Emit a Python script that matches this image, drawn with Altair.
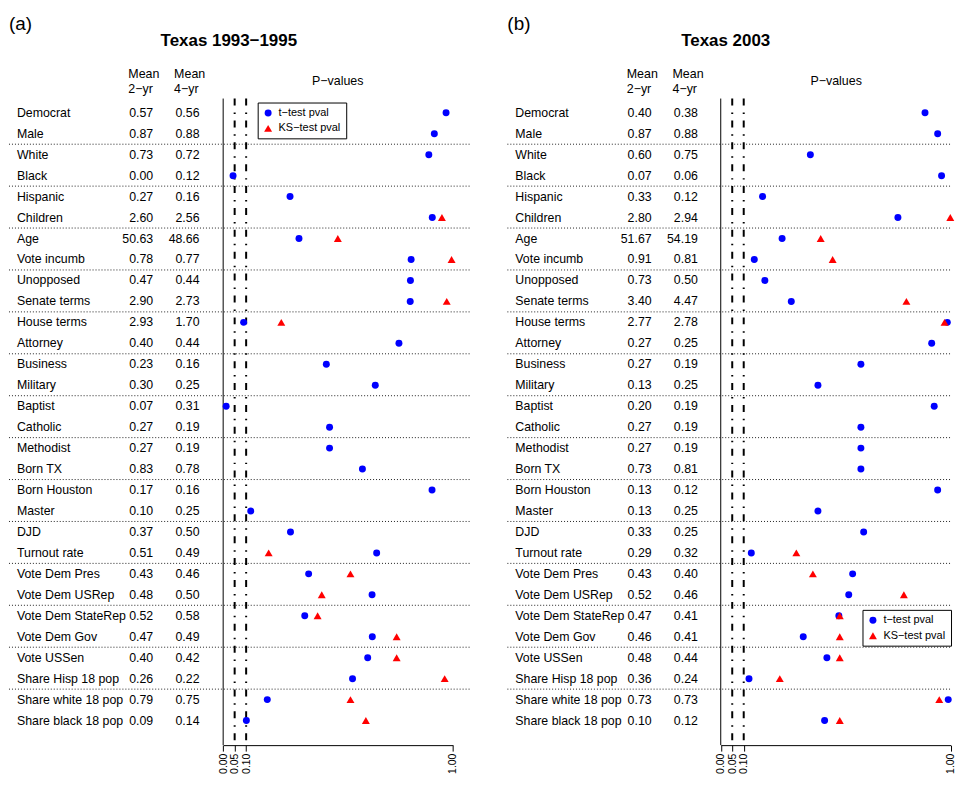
import altair as alt
import pandas as pd

FONT = "Liberation Sans, Arial, Helvetica, sans-serif"

names = ["Democrat", "Male", "White", "Black", "Hispanic", "Children", "Age",
         "Vote incumb", "Unopposed", "Senate terms", "House terms", "Attorney",
         "Business", "Military", "Baptist", "Catholic", "Methodist", "Born TX",
         "Born Houston", "Master", "DJD", "Turnout rate", "Vote Dem Pres",
         "Vote Dem USRep", "Vote Dem StateRep", "Vote Dem Gov", "Vote USSen",
         "Share Hisp 18 pop", "Share white 18 pop", "Share black 18 pop"]

# Panel (a) Texas 1993-1995
a_m2 = [0.57, 0.87, 0.73, 0.00, 0.27, 2.60, 50.63, 0.78, 0.47, 2.90, 2.93, 0.40,
        0.23, 0.30, 0.07, 0.27, 0.27, 0.83, 0.17, 0.10, 0.37, 0.51, 0.43, 0.48,
        0.52, 0.47, 0.40, 0.26, 0.79, 0.09]
a_m4 = [0.56, 0.88, 0.72, 0.12, 0.16, 2.56, 48.66, 0.77, 0.44, 2.73, 1.70, 0.44,
        0.16, 0.25, 0.31, 0.19, 0.19, 0.78, 0.16, 0.25, 0.50, 0.49, 0.46, 0.50,
        0.58, 0.49, 0.42, 0.22, 0.75, 0.14]
a_t = [0.970, 0.919, 0.895, 0.043, 0.291, 0.910, 0.330, 0.818, 0.815, 0.814,
       0.089, 0.765, 0.449, 0.662, 0.013, 0.463, 0.463, 0.606, 0.909, 0.120,
       0.293, 0.668, 0.372, 0.648, 0.355, 0.649, 0.629, 0.563, 0.192, 0.101]
a_ks = [None, None, None, None, None, 0.952, 0.499, 0.994, None, 0.973,
        0.253, None, None, None, None, None, None, None, None, None,
        None, 0.198, 0.554, 0.429, 0.411, 0.755, 0.755, 0.964, 0.554, 0.621]

# Panel (b) Texas 2003
b_m2 = [0.40, 0.87, 0.60, 0.07, 0.33, 2.80, 51.67, 0.91, 0.73, 3.40, 2.77, 0.27,
        0.27, 0.13, 0.20, 0.27, 0.27, 0.73, 0.13, 0.13, 0.33, 0.29, 0.43, 0.52,
        0.47, 0.46, 0.48, 0.36, 0.73, 0.10]
b_m4 = [0.38, 0.88, 0.75, 0.06, 0.12, 2.94, 54.19, 0.81, 0.50, 4.47, 2.78, 0.25,
        0.19, 0.25, 0.19, 0.19, 0.19, 0.81, 0.12, 0.25, 0.25, 0.32, 0.40, 0.46,
        0.41, 0.41, 0.44, 0.24, 0.73, 0.12]
b_t = [0.889, 0.944, 0.390, 0.961, 0.182, 0.771, 0.267, 0.146, 0.192, 0.307,
       0.986, 0.918, 0.610, 0.423, 0.929, 0.610, 0.610, 0.610, 0.944, 0.423,
       0.622, 0.133, 0.574, 0.557, 0.514, 0.359, 0.462, 0.123, 0.990, 0.452]
b_ks = [None, None, None, None, None, 0.999, 0.435, 0.487, None, 0.808,
        0.974, None, None, None, None, None, None, None, None, None,
        None, 0.329, 0.401, 0.797, 0.518, 0.518, 0.518, 0.257, 0.951, 0.518]

tick_values = [0.0, 0.05, 0.10, 1.0]
cut_values = [0.05, 0.10]
sep_rows = [2.5, 4.5, 6.5, 8.5, 10.5, 12.5, 14.5, 16.5, 18.5, 20.5, 22.5,
            24.5, 26.5, 28.5]
tests = ["t\u2212test pval", "KS\u2212test pval"]

ROW_RANGE = [103.3, 714.3]
LINE_TOP = 89
LINE_BOT = 739
PH = 739


def txt(s, x, y, size=12.5, align="left", weight="normal"):
    return alt.Chart(pd.DataFrame({"s": [s]})).mark_text(
        align=align, baseline="middle", font=FONT, fontSize=size,
        fontWeight=weight, color="black"
    ).encode(text="s:N", x=alt.value(x), y=alt.value(y))


def panel(tag, title, title_x, m2, m4, tp, ks, x0, sep_x2, leg_x, leg_y, width):
    rows = list(range(1, 31))
    tbl = pd.DataFrame({"row": rows, "name": names, "m2": m2, "m4": m4})
    pts = pd.DataFrame({
        "row": rows + rows,
        "p": list(tp) + list(ks),
        "test": [tests[0]] * 30 + [tests[1]] * 30,
    }).dropna()
    seps = pd.DataFrame({"row": sep_rows})
    zero = pd.DataFrame({"p": [0.0]})
    cuts = pd.DataFrame({"p": cut_values})

    xaxis = alt.Axis(values=tick_values, format=".2f", labelAngle=270,
                     labelFontSize=10.5, labelFont=FONT, labelColor="black",
                     tickColor="black", domainColor="black", tickSize=6,
                     labelPadding=2, grid=False, title=None,
                     labelOverlap=False, labelFlush=False, labelBound=False,
                     domainWidth=1, tickWidth=1)
    xs = alt.Scale(domain=[0, 1], range=[x0, x0 + 231], nice=False, zero=False)
    ys = alt.Scale(domain=[1, 30], range=ROW_RANGE, nice=False, zero=False)

    def X():
        return alt.X("p:Q", scale=xs, axis=xaxis)

    def Y():
        return alt.Y("row:Q", scale=ys, axis=None)

    base_txt = dict(baseline="middle", font=FONT, color="black")
    names_l = alt.Chart(tbl).mark_text(align="left", fontSize=12.4, **base_txt).encode(
        x=alt.value(8), y=Y(), text="name:N")
    m2_l = alt.Chart(tbl).mark_text(align="right", fontSize=12.4, **base_txt).encode(
        x=alt.value(145), y=Y(), text=alt.Text("m2:Q", format=".2f"))
    m4_l = alt.Chart(tbl).mark_text(align="right", fontSize=12.4, **base_txt).encode(
        x=alt.value(191.5), y=Y(), text=alt.Text("m4:Q", format=".2f"))
    sep_l = alt.Chart(seps).mark_rule(color="#222222", strokeWidth=1,
                                      strokeDash=[1, 2]).encode(
        y=Y(), x=alt.value(0), x2=alt.value(sep_x2))
    zero_l = alt.Chart(zero).mark_rule(color="black", strokeWidth=1).encode(
        x=X(), y=alt.value(LINE_TOP), y2=alt.value(LINE_BOT))
    cut_l = alt.Chart(cuts).mark_rule(color="black", strokeWidth=2,
                                      strokeDash=[7, 7, 1.5, 6.5]).encode(
        x=X(), y=alt.value(LINE_TOP), y2=alt.value(LINE_BOT))

    leg = alt.Legend(title=None, orient="none", legendX=leg_x, legendY=leg_y,
                     padding=5, strokeColor="black", fillColor="white",
                     labelFont=FONT, labelFontSize=11, labelColor="black",
                     symbolSize=30, labelOffset=5, rowPadding=3.5,
                     cornerRadius=0)
    pts_l = alt.Chart(pts).mark_point(filled=True, opacity=1).encode(
        x=X(), y=Y(),
        color=alt.Color("test:N", scale=alt.Scale(domain=tests, range=["#0000FF", "#FF0000"]),
                        legend=leg),
        shape=alt.Shape("test:N", scale=alt.Scale(domain=tests, range=["circle", "triangle-up"]),
                        legend=leg),
        size=alt.Size("test:N", scale=alt.Scale(domain=tests, range=[49, 64]), legend=None),
    )

    layers = [
        txt(tag, 0, 14, size=19),
        txt(title, title_x, 31, size=17, align="center", weight="bold"),
        txt("Mean", 120, 64), txt("2\u2212yr", 120, 79),
        txt("Mean", 166, 64), txt("4\u2212yr", 166, 79),
        txt("P\u2212values", 330.5, 71, align="center"),
        sep_l, names_l, m2_l, m4_l, zero_l, cut_l, pts_l,
    ]
    return alt.layer(*layers).properties(width=width, height=PH)


pa = panel("(a)", "Texas 1993\u22121995", 221, a_m2, a_m4, a_t, a_ks,
           x0=215.3, sep_x2=463, leg_x=250, leg_y=93, width=500)
pb = panel("(b)", "Texas 2003", 219.5, b_m2, b_m4, b_t, b_ks,
           x0=214.5, sep_x2=446, leg_x=357, leg_y=603, width=446)

chart = alt.hconcat(pa, pb, spacing=0).resolve_scale(
    color="independent", shape="independent", size="independent",
    x="independent", y="independent"
).resolve_legend(
    color="independent", shape="independent", size="independent"
).properties(padding=0).configure_view(stroke=None)

chart.save("out.html", embed_options={"renderer": "svg", "actions": False})
